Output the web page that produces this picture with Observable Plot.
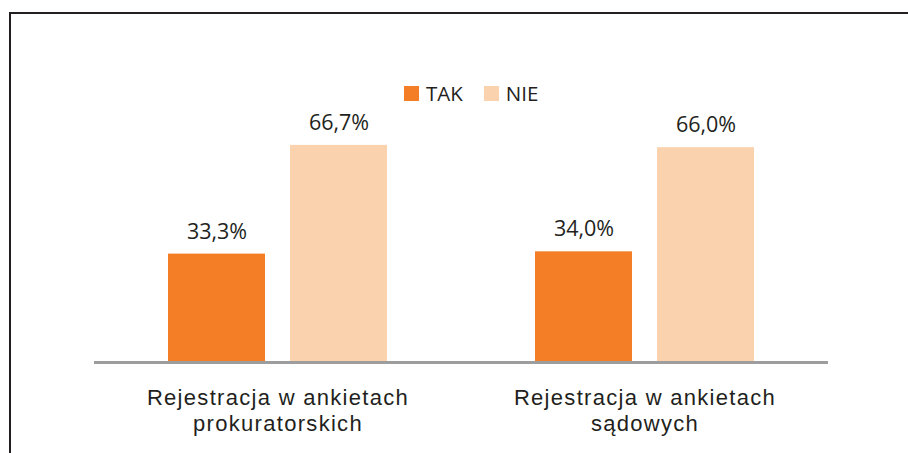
<!DOCTYPE html>
<html>
<head>
<meta charset="utf-8">
<script src="https://cdn.jsdelivr.net/npm/d3@7"></script>
<script src="https://cdn.jsdelivr.net/npm/@observablehq/plot@0.6"></script>
<style>
  html, body { margin: 0; padding: 0; background: #fff; }
  #wrap { position: relative; width: 908px; height: 453px; overflow: hidden; background: #fff; }
  #frame { position: absolute; left: 9px; top: 12px; right: -5px; bottom: -5px;
           border-left: 2px solid #231f20; border-top: 2px solid #231f20; }
  #chart { position: absolute; left: 0; top: 0; }
  #legend { position: absolute; left: 404px; top: 83px; display: flex; align-items: center;
            font-family: "Open Sans", sans-serif; font-size: 20.5px; line-height: 20px; color: #231f20; }
  #legend .item { display: flex; align-items: center; }
  #legend .sw { width: 15px; height: 15px; margin-right: 7px; }
  #legend .item + .item { margin-left: 21px; }
  svg g[aria-label="fx-axis tick label"] text { letter-spacing: 1.3px; }
</style>
</head>
<body>
<div id="wrap">
  <div id="frame"></div>
  <div id="chart"></div>
  <div id="legend"></div>
</div>
<script>
const categories = ["Rejestracja w ankietach prokuratorskich", "Rejestracja w ankietach sądowych"];
const series = ["TAK", "NIE"];
const takValues = [33.3, 34.0];
const nieValues = [66.7, 66.0];
const colors = ["#f47e26", "#fad2ae"];

const data = categories.flatMap((c, i) => [
  {category: c, series: "TAK", value: takValues[i]},
  {category: c, series: "NIE", value: nieValues[i]}
]);

const fmt = v => d3.format(".1f")(v).replace(".", ",") + "%";

const chart = Plot.plot({
  width: 908,
  height: 453,
  marginLeft: 93,
  marginRight: 80,
  marginTop: 36.5,
  marginBottom: 91,
  style: {background: "transparent", color: "#231f20"},
  fx: {domain: categories, paddingInner: 0, paddingOuter: 0, label: null, axis: null},
  x: {domain: series, paddingInner: 0.204, paddingOuter: 0.602, axis: null},
  y: {domain: [0, 100], axis: null},
  color: {domain: series, range: colors},
  marks: [
    Plot.barY(data, {fx: "category", x: "series", y: "value", fill: "series"}),
    Plot.ruleY([0], {stroke: "#9d9d9d", strokeWidth: 3}),
    Plot.text(data, {fx: "category", x: "series", y: "value", text: d => fmt(d.value),
      lineAnchor: "bottom", dy: -15.5, fontSize: 21.5, fontFamily: "Open Sans", fill: "#231f20"}),
    Plot.axisFx({anchor: "bottom", tickSize: 0, tickPadding: 23.5, label: null,
      fontSize: 22, fontFamily: "Liberation Sans", lineHeight: 1.2, fill: "#231f20",
      tickFormat: c => c.replace(" ankietach ", " ankietach\n")})
  ]
});
document.getElementById("chart").appendChild(chart);

const legend = document.getElementById("legend");
series.forEach((s, i) => {
  const item = document.createElement("div");
  item.className = "item";
  const sw = document.createElement("span");
  sw.className = "sw";
  sw.style.background = colors[i];
  const label = document.createElement("span");
  label.textContent = s;
  item.appendChild(sw);
  item.appendChild(label);
  legend.appendChild(item);
});
</script>
</body>
</html>
